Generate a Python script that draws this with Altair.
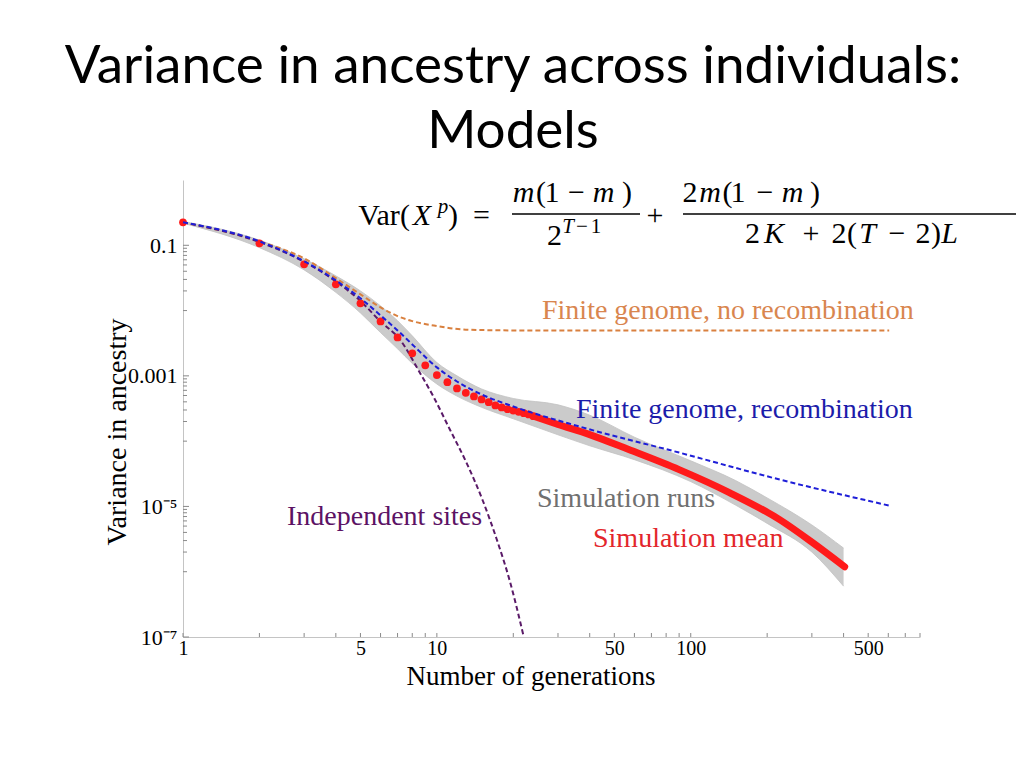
import altair as alt
import pandas as pd

# ---------------- data ----------------
# simulation mean (red dots, generations 1..24)
DOT_GEN = list(range(1, 25))
DOT_VAR = [0.225, 0.107, 0.0512, 0.0252, 0.0129, 0.00683, 0.00388, 0.00221, 0.00145,
           0.00103, 0.0008, 0.000641, 0.00055, 0.000483, 0.000435, 0.000395, 0.000352,
           0.000328, 0.000308, 0.000294, 0.000281, 0.000268, 0.000256, 0.000241]
# simulation mean, dense part (drawn as a thick red line)
MEAN_GEN = [24, 30, 40, 57, 90, 142, 224, 302, 404]
MEAN_VAR = [0.000241, 1.8e-4, 1.26e-4, 7.43e-5, 3.66e-5, 1.63e-5, 6.28e-6, 2.79e-6, 1.19e-6]

# simulation runs envelope (grey)
RUN_GEN = [1, 2, 3, 4, 5, 6, 7, 8, 10, 12, 15, 20, 30, 40, 60, 100, 150, 200, 300, 400]
RUN_LO = [0.218, 0.092, 0.042, 0.019, 0.0092, 0.0046, 0.0026, 0.00155, 0.00075, 0.00049,
          0.00033, 0.00022, 0.000125, 8.5e-5, 5.2e-5, 2.4e-5, 1.05e-5, 5.5e-6, 2.0e-6, 6.0e-7]
RUN_HI = [0.232, 0.12, 0.062, 0.034, 0.020, 0.0118, 0.007, 0.0041, 0.00160, 0.00100,
          0.00063, 0.00045, 0.00036, 0.00025, 0.000115, 5.0e-5, 2.5e-5, 1.35e-5, 5.2e-6, 2.3e-6]

# finite genome, recombination (blue dashed)
REC_GEN = [1, 2, 3, 4, 5, 6, 7, 8, 10, 12, 15, 20, 36.5, 90, 224, 605]
REC_VAR = [0.225, 0.115, 0.0569, 0.029, 0.0154, 0.00844, 0.00497, 0.00303, 0.00135, 0.00082,
           0.000519, 0.00034, 1.67e-4, 6.68e-5, 2.58e-5, 1.03e-5]

# finite genome, no recombination (orange dashed)
NOREC_GEN = [1, 2, 3, 3.9, 5, 6, 7, 8, 10, 13, 20, 40, 100, 605]
NOREC_VAR = [0.225, 0.115, 0.063, 0.0335, 0.0177, 0.0112, 0.00824, 0.0069, 0.0058, 0.0051,
             0.00497, 0.00495, 0.00495, 0.00495]

# independent sites (purple dashed)
IND_GEN = [1, 2, 3, 4, 5, 6, 7.15, 8.57, 9.67, 11.25, 13.09, 15.2, 17.18, 19.38, 22.0]
IND_VAR = [0.225, 0.112, 0.056, 0.028, 0.014, 0.0068, 0.00361, 0.00112, 0.000489, 0.000151,
           4.65e-5, 1.2e-5, 3.2e-6, 7.2e-7, 1.0e-7]

X_LABELS = [1, 5, 10, 50, 100, 500]
Y_LABELS = [0.1, 0.001, 1e-5, 1e-7]
X_TICKS = [1, 2, 3, 4, 5, 6, 7, 8, 9, 10, 20, 30, 40, 50, 60, 70, 80, 90,
           100, 200, 300, 400, 500, 600, 700, 800]
Y_MINOR = [k * 10.0 ** e for e in (-2, -4, -6) for k in range(2, 10)] + [1e-2, 1e-4, 1e-6]

# ---------------- layout ----------------
OX, OY = 183, 180          # page position of plot origin
W, H = 737, 457
SERIF = "Liberation Serif"

xscale = alt.Scale(type="log", domain=[1, 800], nice=False)
yscale = alt.Scale(type="log", domain=[1e-7, 1], nice=False)
xaxis = alt.Axis(values=X_LABELS, title=None, ticks=False, grid=False, domainColor="#c4c4c4",
                 labelFont=SERIF, labelFontSize=20, labelColor="black", labelPadding=1,
                 labelFlush=False, format="d")
yaxis = alt.Axis(values=Y_LABELS, title=None, ticks=False, grid=False, domainColor="#c4c4c4",
                 labelFont=SERIF, labelFontSize=22, labelColor="black", labelPadding=6,
                 labelFlush=False,
                 labelExpr="datum.value > 0.05 ? '0.1' : datum.value > 0.0005 ? '0.001' : "
                           "datum.value > 5e-6 ? '10⁻⁵' : '10⁻⁷'")


def X(f):
    return alt.X(f, type="quantitative", scale=xscale, axis=xaxis)


def Y(f):
    return alt.Y(f, type="quantitative", scale=yscale, axis=yaxis)


ONE = pd.DataFrame({"d": [0]})


def text(s, x, y, size, color="black", font=SERIF, italic=False, align="left",
         angle=None, baseline="alphabetic"):
    kw = dict(text=s, align=align, baseline=baseline, fontSize=size, font=font, color=color)
    if italic:
        kw["fontStyle"] = "italic"
    if angle is not None:
        kw["angle"] = angle
    return alt.Chart(ONE).mark_text(**kw).encode(x=alt.value(x - OX), y=alt.value(y - OY))


def hbar(x0, x1, y):
    return alt.Chart(ONE).mark_rule(color="black", strokeWidth=1.3).encode(
        x=alt.value(x0 - OX), x2=alt.value(x1 - OX), y=alt.value(y - OY))


FS = 30
SS = 21
# (text, centre x, baseline, size, italic) -- glyphs centred where the reference has them
PIECES = [
    ("Var", 379, 225, FS, False), ("(", 405, 225, FS, False), ("X", 422, 225, FS, True),
    ("p", 443, 213, SS, True), (")", 453, 225, FS, False), ("=", 481.5, 225, FS, False),
    ("m", 523.5, 202, FS, True), ("(", 541, 202, FS, False), ("1", 552, 202, FS, False),
    ("−", 576.5, 202, FS, False), ("m", 603.5, 202, FS, True), (")", 627, 202, FS, False),
    ("2", 554.5, 245, FS, False), ("T", 568, 233, SS, True), ("−", 582, 233, SS, False),
    ("1", 596, 233, SS, False),
    ("+", 655, 225, FS, False),
    ("2", 690, 202, FS, False), ("m", 710, 202, FS, True), ("(", 727.5, 202, FS, False),
    ("1", 738, 202, FS, False), ("−", 765, 202, FS, False), ("m", 792.5, 202, FS, True),
    (")", 815, 202, FS, False),
    ("2", 752.5, 243, FS, False), ("K", 774, 243, FS, True), ("+", 811, 243, FS, False),
    ("2", 839, 243, FS, False), ("(", 852, 243, FS, False), ("T", 867.5, 243, FS, True),
    ("−", 897, 243, FS, False), ("2", 923, 243, FS, False), (")", 936, 243, FS, False),
    ("L", 949.5, 243, FS, True),
]
formula = [text(t, x, y, s, italic=i, align="center") for (t, x, y, s, i) in PIECES]
formula += [hbar(512, 640, 214), hbar(683, 1018, 214)]

# ---------------- data layers ----------------
runs_df = pd.DataFrame({"g": RUN_GEN, "lo": RUN_LO, "hi": RUN_HI})
band = alt.Chart(runs_df).mark_area(color="#bababa", opacity=0.75, interpolate="monotone").encode(
    x=X("g"), y=Y("lo"), y2="hi")
band_edges = alt.layer(
    alt.Chart(runs_df).mark_line(color="#c2c2c2", strokeWidth=0.8, interpolate="monotone").encode(
        x=X("g"), y=Y("lo")),
    alt.Chart(runs_df).mark_line(color="#c2c2c2", strokeWidth=0.8, interpolate="monotone").encode(
        x=X("g"), y=Y("hi")),
)

xt = alt.Chart(pd.DataFrame({"t": X_TICKS})).mark_rule(color="#8a8a8a", strokeWidth=1).encode(
    x=X("t"), y=alt.value(H), y2=alt.value(H - 4))
ytmaj = alt.Chart(pd.DataFrame({"t": Y_LABELS})).mark_rule(color="#8a8a8a", strokeWidth=1).encode(
    y=Y("t"), x=alt.value(0), x2=alt.value(6))
ytmin = alt.Chart(pd.DataFrame({"t": Y_MINOR})).mark_rule(color="#8a8a8a", strokeWidth=1).encode(
    y=Y("t"), x=alt.value(0), x2=alt.value(4))

norec = alt.Chart(pd.DataFrame({"g": NOREC_GEN, "v": NOREC_VAR})).mark_line(
    color="#d9803f", strokeWidth=2, strokeDash=[5, 3], interpolate="monotone").encode(
    x=X("g"), y=Y("v"))
ind = alt.Chart(pd.DataFrame({"g": IND_GEN, "v": IND_VAR})).mark_line(
    color="#5a1a68", strokeWidth=2, strokeDash=[5, 3], interpolate="monotone", clip=True).encode(
    x=X("g"), y=Y("v"))
mean_line = alt.Chart(pd.DataFrame({"g": MEAN_GEN, "v": MEAN_VAR})).mark_line(
    color="#ff1a1a", strokeWidth=7, strokeCap="round", interpolate="monotone").encode(
    x=X("g"), y=Y("v"))
dots = alt.Chart(pd.DataFrame({"g": DOT_GEN, "v": DOT_VAR})).mark_circle(
    color="#ff1a1a", size=60, opacity=1).encode(x=X("g"), y=Y("v"))
rec = alt.Chart(pd.DataFrame({"g": REC_GEN, "v": REC_VAR})).mark_line(
    color="#1e1ed8", strokeWidth=2, strokeDash=[5, 3], interpolate="monotone").encode(
    x=X("g"), y=Y("v"))

labels = [
    text("Finite genome, no recombination", 542, 319, 28, color="#d9864f"),
    text("Finite genome, recombination", 576, 418, 28, color="#1c1caa"),
    text("Simulation runs", 537, 507, 28, color="#707070"),
    text("Simulation mean", 593, 547, 28, color="#e3262b"),
    text("Independent sites", 287, 525, 28, color="#5c1264"),
    text("Number of generations", 531, 685, 27, align="center"),
    text("Variance in ancestry", 126, 432, 28, align="center", angle=270),
    text("Variance in ancestry across individuals:", 513, 83, 53,
         font="Lato", align="center"),
    text("Models", 513, 148, 53, font="Lato", align="center"),
]

chart = alt.layer(
    band, band_edges, xt, ytmaj, ytmin, norec, ind, mean_line, dots, rec, *labels, *formula
).properties(
    width=W, height=H,
    autosize=alt.AutoSizeParams(type="none"),
    padding={"left": OX - 8, "top": OY - 8, "right": 1008 - (OX - 8) - W, "bottom": 110},
).configure_view(stroke=None)

chart.save("out.html", embed_options={"renderer": "svg", "actions": False})
